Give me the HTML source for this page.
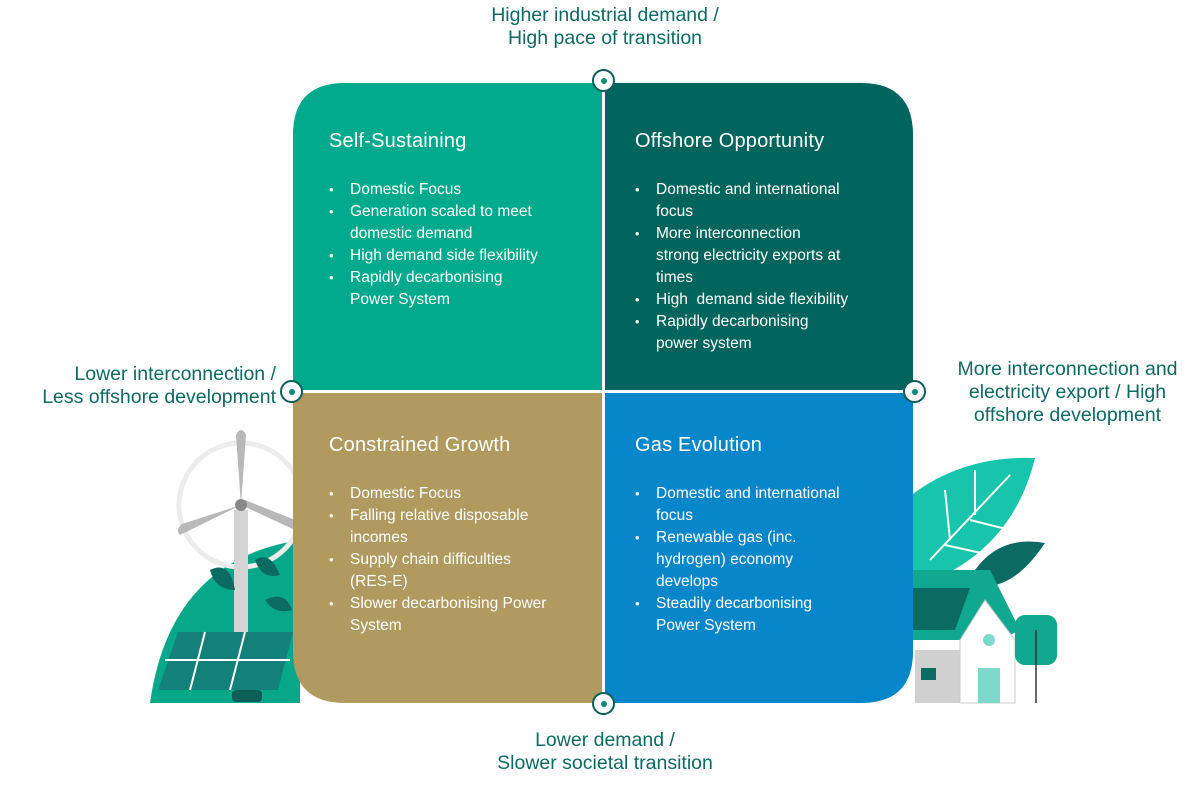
<!DOCTYPE html>
<html><head><style>
*{margin:0;padding:0}
body{width:1200px;height:786px;background:#fff;position:relative;overflow:hidden;font-family:"Liberation Sans",sans-serif}
.lbl{position:absolute;color:#0d6b62;font-size:19.5px;text-align:center;line-height:23px}
.q{position:absolute;color:#fff;width:300px;height:300px;white-space:nowrap}
.q h2{position:absolute;left:36px;font-size:20px;font-weight:normal;letter-spacing:0.2px}
.q ul{position:absolute;left:36px;list-style:none;font-size:15.5px;line-height:22px}
.q li{padding-left:21px;position:relative}
.q li:before{content:"•";position:absolute;left:0;font-size:13px}
.m{position:absolute;width:19px;height:19px;border:2.5px solid #0d5f58;border-radius:50%;background:#fff}
.m:after{content:"";position:absolute;left:6.5px;top:6.5px;width:6px;height:6px;border-radius:50%;background:#0d8a7c}
</style></head><body>
<svg width="1200" height="786" style="position:absolute;left:0;top:0">
<path d="M150 703 Q170 560 300 540 L300 703 Z" fill="#07a88a"/>
<circle cx="241" cy="505" r="62" fill="none" stroke="#ececec" stroke-width="5"/>
<rect x="234" y="510" width="14" height="190" fill="#d4d4d4"/>
<path d="M241 505 L236 435 Q241 425 246 435 Z" fill="#b8b8b8"/>
<path d="M241 505 L180 535 Q175 530 182 524 Z" fill="#b8b8b8"/>
<path d="M241 505 L295 530 L295 520 L245 500 Z" fill="#b8b8b8"/>
<circle cx="241" cy="505" r="6" fill="#888"/>
<path d="M210 570 Q230 560 235 590 Q215 590 210 570Z M255 560 Q270 550 280 575 Q262 580 255 560Z M265 600 Q285 590 292 610 Q275 615 265 600Z" fill="#0b6b63"/>
<path d="M178 632 L293 632 L278 690 L158 690 Z" fill="#14807a"/>
<path d="M165 660 L290 660 M205 632 L190 690 M245 632 L230 690" stroke="#fff" stroke-width="2"/>
<rect x="232" y="690" width="30" height="12" rx="4" fill="#0d5f58"/>
<path d="M905 500 Q960 455 1035 458 Q1010 560 905 590 Z" fill="#18c4ab"/>
<path d="M930 560 L1010 475 M950 540 L945 490 M975 515 L975 470 M945 545 L990 555 M970 520 L1010 530" stroke="#fff" stroke-width="2"/>
<path d="M975 570 Q1000 535 1045 543 Q1020 580 995 585 Z" fill="#0b6b63"/>
<path d="M905 570 L990 570 L1020 630 L1000 640 L985 600 L960 640 L905 640 Z" fill="#10a98f"/>
<path d="M910 588 L970 588 L955 630 L910 630 Z" fill="#0b6b63"/>
<rect x="915" y="650" width="45" height="53" fill="#d0d0d0"/>
<path d="M960 640 L985 600 L1015 640 L1015 703 L960 703 Z" fill="#fff" stroke="#ccc"/>
<circle cx="989" cy="640" r="6" fill="#7dd9cc"/>
<rect x="978" y="668" width="22" height="35" fill="#7dd9cc"/>
<rect x="921" y="668" width="15" height="12" fill="#0b6b63"/>
<rect x="1015" y="615" width="42" height="50" rx="10" fill="#10a98f"/>
<line x1="1036" y1="630" x2="1036" y2="703" stroke="#333" stroke-width="1.5"/>
<path d="M345 83 H602 V390 H293 V135 Q293 83 345 83Z" fill="#01a98d"/>
<path d="M605 83 H861 Q913 83 913 135 V390 H605Z" fill="#02655d"/>
<path d="M293 393 H602 V703 H345 Q293 703 293 651Z" fill="#b09a5f"/>
<path d="M605 393 H913 V651 Q913 703 861 703 H605Z" fill="#0886ca"/>
</svg>
<div class="m" style="left:592px;top:69px"></div>
<div class="m" style="left:280px;top:380px"></div>
<div class="m" style="left:903px;top:380px"></div>
<div class="m" style="left:592px;top:692px"></div>
<div class="lbl" style="left:430px;top:4px;width:350px">Higher industrial demand /<br>High pace of transition</div>
<div class="lbl" style="left:0;top:363px;width:276px;text-align:right">Lower interconnection /<br>Less offshore development</div>
<div class="lbl" style="left:925px;top:358px;width:285px">More interconnection and<br>electricity export / High<br>offshore development</div>
<div class="lbl" style="left:430px;top:729px;width:350px">Lower demand /<br>Slower societal transition</div>
<div class="q" style="left:293px;top:83px">
<h2 style="top:47px">Self-Sustaining</h2>
<ul style="top:96px"><li>Domestic Focus</li><li>Generation scaled to meet<br>domestic demand</li><li>High demand side flexibility</li><li>Rapidly decarbonising<br>Power System</li></ul></div>
<div class="q" style="left:599px;top:83px">
<h2 style="top:47px">Offshore Opportunity</h2>
<ul style="top:96px"><li>Domestic and international<br>focus</li><li>More interconnection<br>strong electricity exports at<br>times</li><li>High &nbsp;demand side flexibility</li><li>Rapidly decarbonising<br>power system</li></ul></div>
<div class="q" style="left:293px;top:393px">
<h2 style="top:41px">Constrained Growth</h2>
<ul style="top:90px"><li>Domestic Focus</li><li>Falling relative disposable<br>incomes</li><li>Supply chain difficulties<br>(RES-E)</li><li>Slower decarbonising Power<br>System</li></ul></div>
<div class="q" style="left:599px;top:393px">
<h2 style="top:41px">Gas Evolution</h2>
<ul style="top:90px"><li>Domestic and international<br>focus</li><li>Renewable gas (inc.<br>hydrogen) economy<br>develops</li><li>Steadily decarbonising<br>Power System</li></ul></div>
</body></html>
